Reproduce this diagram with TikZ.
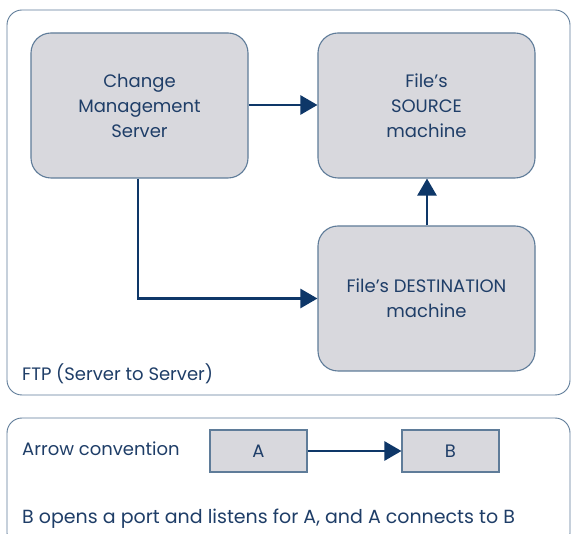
\documentclass[tikz,border=0pt]{standalone}
\usepackage{fontspec}
\setmainfont{Poppins}
\usetikzlibrary{arrows.meta}
\definecolor{navy}{HTML}{0E3768}
\definecolor{txt}{HTML}{1F3E68}
\definecolor{frm}{HTML}{5F7C99}
\definecolor{boxfill}{HTML}{D8D8DD}
\begin{document}
\begin{tikzpicture}[x=1pt,y=-1pt,
  every node/.style={text=txt, font=\fontsize{18}{25}\selectfont},
  bigbox/.style={draw=frm, line width=1.1pt, fill=boxfill, rounded corners=20pt,
    minimum width=217pt, minimum height=145pt, align=center, inner sep=0pt},
  smallbox/.style={draw=frm, line width=1.1pt, fill=boxfill,
    minimum width=97pt, minimum height=42pt, inner sep=0pt},
  frame/.style={draw=frm, line width=0.9pt, rounded corners=15pt},
  conn/.style={draw=navy, line width=2.6pt, -{Triangle[length=17pt,width=19pt]}},
  lbl/.style={anchor=base west, inner sep=0pt}]
\useasboundingbox (0,0) rectangle (571,534);
\clip (0,0) rectangle (571,534);
\fill[white] (0,0) rectangle (571,534);
\draw[frame] (7,10) rectangle (570,395);
\draw[frame] (7,418) rectangle (570,548);
\node[bigbox] (cms) at (139.5,105.5) {Change\\Management\\Server};
\node[bigbox] (src) at (426.5,105.5) {File’s\\SOURCE\\machine};
\node[bigbox] (dst) at (426.5,298.5) {File’s DESTINATION\\machine};
\draw[conn] (cms.east |- 0,105) -- (src.west |- 0,105);
\draw[conn] (dst.north -| 427,0) -- (src.south -| 427,0);
\draw[conn] (cms.south -| 138,0) |- (dst.west);
\node[lbl] (ftp) at (22,381) {FTP (Server to Server)};
\node[lbl] (conv) at (22,456) {Arrow convention};
\node[smallbox] (a) at (258.5,451) {A};
\node[smallbox] (b) at (450.5,451) {B};
\draw[conn] (a) -- (b);
\node[lbl, font=\fontsize{19}{25}\selectfont] (note) at (22,524) {B opens a port and listens for A, and A connects to B};
\end{tikzpicture}
\end{document}
